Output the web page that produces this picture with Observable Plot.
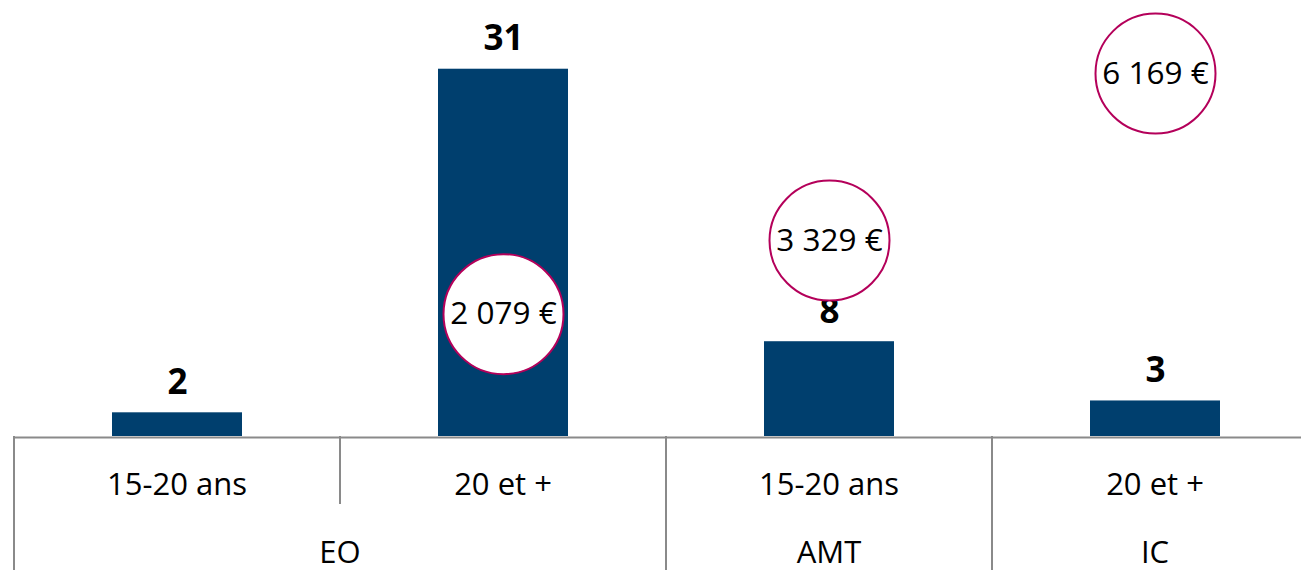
<!DOCTYPE html>
<html>
<head>
<meta charset="utf-8">
<script src="https://cdn.jsdelivr.net/npm/d3@7"></script>
<script src="https://cdn.jsdelivr.net/npm/@observablehq/plot@0.6"></script>
<style>
  html, body { margin: 0; padding: 0; background: #fff; overflow: hidden; }
  #chart svg { display: block; }
</style>
</head>
<body>
<div id="chart"></div>
<script>
// ---- Data ----
const groups = ["EO", "EO", "AMT", "IC"];
const ages = ["15-20 ans", "20 et +", "15-20 ans", "20 et +"];
const counts = [2, 31, 8, 3];
const euros = [null, 2079, 3329, 6169];

// ---- Scale settings ----
const countMax = 36.8;   // primary axis top
const euroMax = 7410;    // secondary axis top

const keys = groups.map((g, i) => g + "|" + ages[i]);
const rows = keys.map((k, i) => ({key: k, group: groups[i], age: ages[i], count: counts[i], euro: euros[i]}));
const euroRows = rows.filter(d => d.euro != null);

const fr = d3.formatLocale({decimal: ",", thousands: "\u00a0", grouping: [3], currency: ["", "\u00a0€"]});
const fmtEuro = v => fr.format(",")(v) + " €";

const FONT = "'Open Sans', 'Noto Sans', sans-serif";
const AXIS = "#8a8a8a";

function groupAxis(index, scales, values, dims) {
  const x = scales.x;
  const step = x(keys[1]) - x(keys[0]);
  const base = dims.height - dims.marginBottom;
  const g = d3.create("svg:g").attr("font-family", FONT);
  keys.forEach((k, i) => {
    const x0 = x(k);
    const newGroup = i === 0 || groups[i] !== groups[i - 1];
    g.append("line")
      .attr("x1", x0).attr("x2", x0)
      .attr("y1", base).attr("y2", newGroup ? dims.height : base + 68)
      .attr("stroke", AXIS).attr("stroke-width", 2);
    g.append("text")
      .attr("x", x0 + step / 2).attr("y", base + 48)
      .attr("dy", "0.35em").attr("text-anchor", "middle")
      .attr("font-size", 31).attr("fill", "#000")
      .text(ages[i]);
  });
  const xEnd = x(keys[keys.length - 1]) + step;
  g.append("line").attr("x1", xEnd).attr("x2", xEnd)
    .attr("y1", base).attr("y2", dims.height)
    .attr("stroke", AXIS).attr("stroke-width", 2);
  const uniq = [...new Set(groups)];
  uniq.forEach(gr => {
    const first = groups.indexOf(gr);
    const last = groups.lastIndexOf(gr);
    const cx = (x(keys[first]) + x(keys[last]) + step) / 2;
    g.append("text")
      .attr("x", cx).attr("y", base + 116)
      .attr("dy", "0.35em").attr("text-anchor", "middle")
      .attr("font-size", 31).attr("fill", "#000")
      .text(gr);
  });
  return g.node();
}

const chart = Plot.plot({
  width: 1301,
  height: 570,
  marginLeft: 14,
  marginRight: 0,
  marginTop: 0,
  marginBottom: 134,
  style: {fontFamily: FONT, background: "#fff", overflow: "visible"},
  x: {domain: keys, range: [14, 1318], padding: 0, axis: null},
  y: {domain: [0, countMax], axis: null},
  marks: [
    Plot.barY(rows, {x: "key", y: "count", fill: "#003f6e", insetLeft: 98, insetRight: 98}),
    Plot.ruleY([0], {stroke: AXIS, strokeWidth: 2, dy: 1}),
    groupAxis,
    Plot.text(rows, {x: "key", y: "count", text: d => String(d.count), dy: -30,
      fontSize: 35, fontWeight: "bold", fill: "#000"}),
    Plot.dot(euroRows, {x: "key", y: d => d.euro * countMax / euroMax, r: 60,
      fill: "white", stroke: "#b4005a", strokeWidth: 2}),
    Plot.text(euroRows, {x: "key", y: d => d.euro * countMax / euroMax, text: d => fmtEuro(d.euro),
      fontSize: 31.5, fill: "#000"})
  ]
});
document.getElementById("chart").appendChild(chart);
</script>
</body>
</html>
